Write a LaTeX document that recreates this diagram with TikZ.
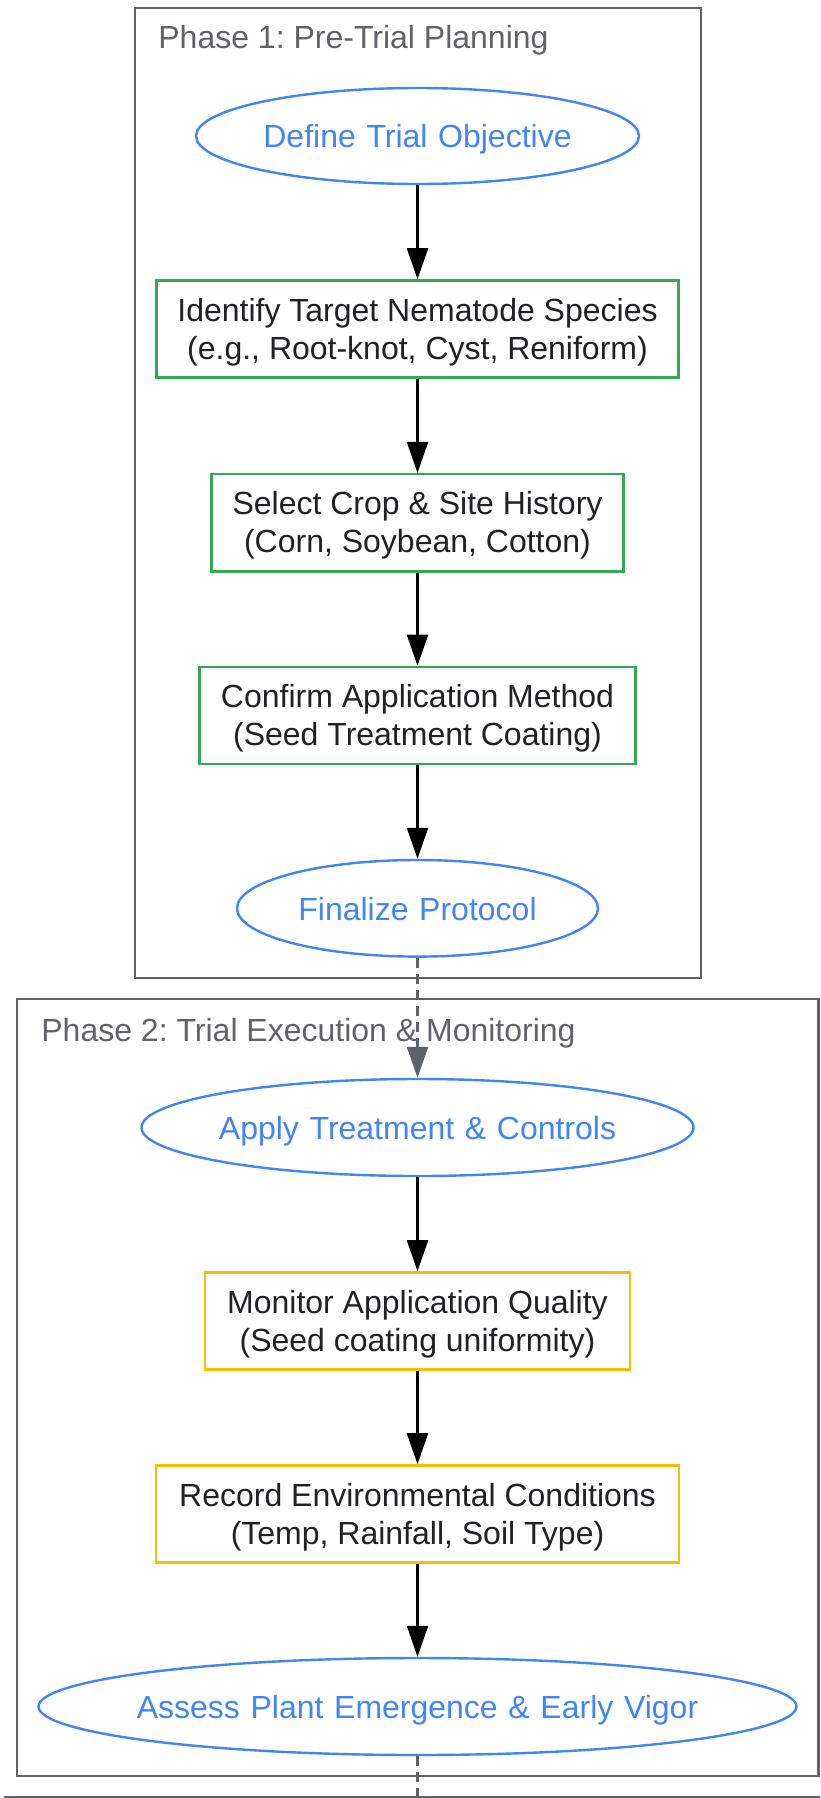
\documentclass[tikz,border=0pt]{standalone}
\usepackage{fontspec}
\setmainfont{Liberation Sans}
\usetikzlibrary{shapes.geometric,arrows.meta}
\definecolor{gblue}{HTML}{4285F4}
\definecolor{ggreen}{HTML}{34A853}
\definecolor{gyellow}{HTML}{FBBC05}
\definecolor{ggrey}{HTML}{5F6368}
\definecolor{gtext}{HTML}{202124}
\frenchspacing
\begin{document}
\begin{tikzpicture}[x=0.5pt,y=-0.5pt,
  txt/.style={font=\fontsize{16pt}{19pt}\selectfont},
  term/.style={txt, ellipse, draw=gblue, line width=1.2pt, text=gblue, inner sep=0pt, text height=11.7pt, text depth=0pt, text width=0pt, align=center},
  stepbox/.style={txt, rectangle, draw=#1, line width=1.2pt, text=gtext, align=center, inner sep=0pt, minimum height=48.6pt, text height=30.2pt, text depth=0pt},
  cluster/.style={rectangle, draw=ggrey, line width=1.1pt, inner sep=0pt},
  ctitle/.style={txt, text=ggrey, anchor=base west, inner sep=0pt},
  flow/.style={draw=black, line width=1.1pt, -{Triangle[length=15.5pt,width=10.5pt]}},
  dflow/.style={draw=ggrey, line width=1.1pt, dash pattern=on 5pt off 3pt, -{Triangle[length=15.5pt,width=10.5pt]}}
]
\useasboundingbox (0,0) rectangle (820,1798);
\clip (0,0) rectangle (820,1798);
\fill[white] (0,0) rectangle (820,1798);

% clusters
\node[cluster, minimum width=283pt, minimum height=485pt] (p1) at (418,493) {};
\node[cluster, minimum width=400.75pt, minimum height=388.5pt] (p2) at (417.75,1387.5) {};
\node[cluster, minimum width=413pt, minimum height=200pt] (p3) at (418,1997) {};
\node[ctitle] (t1) at (158,49) {Phase 1: Pre-Trial Planning};
\node[ctitle] (t2) at (41,1041) {Phase 2: Trial Execution \& Monitoring};

% phase 1 nodes
\node[term, minimum width=221.5pt, minimum height=48pt] (obj) at (417.5,136) {\makebox[0pt]{Define Trial Objective}};
\node[stepbox=ggreen, minimum width=261pt] (species) at (417.5,329) {Identify Target Nematode Species\\(e.g., Root-knot, Cyst, Reniform)};
\node[stepbox=ggreen, minimum width=206pt] (crop) at (417.5,522.7) {Select Crop \& Site History\\(Corn, Soybean, Cotton)};
\node[stepbox=ggreen, minimum width=218pt] (method) at (417.5,715.5) {Confirm Application Method\\(Seed Treatment Coating)};
\node[term, minimum width=180.5pt, minimum height=48.3pt] (fin) at (417.5,908.3) {\makebox[0pt]{Finalize Protocol}};

% phase 2 nodes
\node[term, minimum width=276pt, minimum height=48.5pt] (apply) at (417.5,1127.5) {\makebox[0pt]{Apply Treatment \& Controls}};
\node[stepbox=gyellow, minimum width=212.7pt] (monitor) at (417.5,1321) {Monitor Application Quality\\(Seed coating uniformity)};
\node[stepbox=gyellow, minimum width=261.5pt] (record) at (417.5,1514) {Record Environmental Conditions\\(Temp, Rainfall, Soil Type)};
\node[term, minimum width=379pt, minimum height=48.5pt] (assess) at (417.5,1706.5) {\makebox[0pt]{Assess Plant Emergence \& Early Vigor}};
\coordinate (next) at (417.5,1900);

% connectors
\draw[flow] (obj.south) -- (species.north);
\draw[flow] (species.south) -- (crop.north);
\draw[flow] (crop.south) -- (method.north);
\draw[flow] (method.south) -- (fin.north);
\draw[dflow] (fin.south) -- (apply.north);
\draw[flow] (apply.south) -- (monitor.north);
\draw[flow] (monitor.south) -- (record.north);
\draw[flow] (record.south) -- (assess.north);
\draw[dflow] (assess.south) -- (next);
\end{tikzpicture}
\end{document}
